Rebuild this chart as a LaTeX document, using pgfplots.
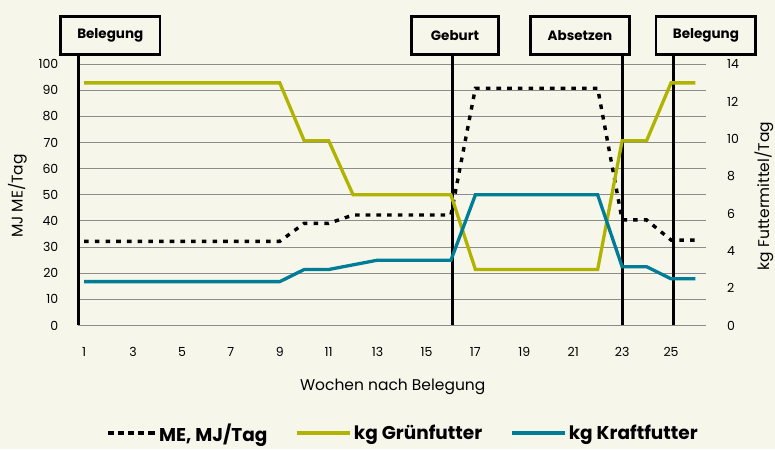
\documentclass[border=0pt]{standalone}
\usepackage{fontspec}
\setmainfont{Poppins}
\usepackage{pgfplots}
\usepackage{pgfplotstable}
\pgfplotsset{compat=1.18}
\definecolor{bg}{RGB}{246,246,235}
\definecolor{gruen}{RGB}{176,180,0}
\definecolor{kraft}{RGB}{0,125,150}
\definecolor{gridc}{RGB}{140,140,140}

\pgfplotstableread{
w me gr kr
1 32.2 13 2.35
2 32.2 13 2.35
3 32.2 13 2.35
4 32.2 13 2.35
5 32.2 13 2.35
6 32.2 13 2.35
7 32.2 13 2.35
8 32.2 13 2.35
9 32.2 13 2.35
10 39.1 9.9 3.0
11 39.1 9.9 3.0
12 42.3 7 3.25
13 42.3 7 3.5
14 42.3 7 3.5
15 42.3 7 3.5
16 42.3 7 3.5
17 90.8 3 7
18 90.8 3 7
19 90.8 3 7
20 90.8 3 7
21 90.8 3 7
22 90.8 3 7
23 40.4 9.9 3.15
24 40.4 9.9 3.15
25 32.7 13 2.5
26 32.7 13 2.5
}\datatab

\pgfplotsset{myax/.style={
  scale only axis, width=628pt, height=261.3pt,
  at={(78pt,123.5pt)}, anchor=south west,
  xmin=0.75, xmax=26.43,
  axis line style={draw=none}, major tick length=0pt, tick style={draw=none},
  clip=false,
  /pgf/number format/assume math mode=true,
  tick label style={font=\fontsize{12.5}{14}\selectfont, inner sep=0pt},
},
legline/.style={legend image code/.code={\draw[##1, line width=4.5pt] (0pt,0pt) -- (#1,0pt);}},
}

\begin{document}
\begin{tikzpicture}
\useasboundingbox (0,0) rectangle (775pt,449pt);
\fill[bg] (0,0) rectangle (775pt,449pt);

\begin{axis}[myax,
  ymin=0, ymax=100, ytick={0,10,...,100},
  ymajorgrids, grid style={gridc, line width=1pt},
  xtick={1,3,...,25},
  xticklabel style={anchor=north, yshift=-21.5pt},
  yticklabel style={anchor=east, xshift=-19.5pt},
]
\draw[black, line width=2.8pt] (axis cs:0.78,0) -- (axis cs:0.78,103.1);
\draw[black, line width=2.8pt] (axis cs:16.05,0) -- (axis cs:16.05,103.1);
\draw[black, line width=2.8pt] (axis cs:23.0,0) -- (axis cs:23.0,103.1);
\draw[black, line width=2.8pt] (axis cs:25.1,0) -- (axis cs:25.1,103.1);
\addplot[black, line width=3.4pt, dash pattern=on 4.6pt off 6.1pt] table[x=w, y=me] {\datatab};
\end{axis}

\begin{axis}[myax,
  ymin=0, ymax=14, ytick={0,2,...,14},
  xtick=\empty,
  yticklabel pos=right,
  yticklabel style={anchor=west, xshift=21pt},
  legend columns=3,
  legend cell align=left,
  legend style={at={(0.517,-0.412)}, anchor=center, draw=none, fill=none,
    font=\bfseries\fontsize{18.5}{21}\selectfont,
    /tikz/every even column/.append style={column sep=25pt}},
]
\addlegendimage{black, dash pattern=on 6.3pt off 3.8pt, legline=47pt}
\addlegendentry{ME, MJ/Tag}
\addplot[gruen, line width=3.3pt, legline=53pt] table[x=w, y=gr] {\datatab};
\addlegendentry{kg Grünfutter}
\addplot[kraft, line width=3.3pt, legline=53pt] table[x=w, y=kr] {\datatab};
\addlegendentry{kg Kraftfutter}
\end{axis}

\tikzset{lbox/.style={draw=black, line width=2.7pt, fill=bg, minimum height=38.4pt, inner sep=0pt,
  font=\bfseries\fontsize{13.5}{16}\selectfont}}
\node[lbox, minimum width=99.3pt] at (110.3pt,413.5pt) {Belegung};
\node[lbox, minimum width=87.4pt] at (455pt,413.5pt) {Geburt};
\node[lbox, minimum width=99.3pt] at (580pt,413.5pt) {Absetzen};
\node[lbox, minimum width=99.6pt] at (705.9pt,413.5pt) {Belegung};

\node[rotate=90, font=\fontsize{15.5}{18}\selectfont] at (17.5pt,253pt) {MJ ME/Tag};
\node[rotate=90, font=\fontsize{15.5}{18}\selectfont] at (764pt,253pt) {kg Futtermittel/Tag};
\node[font=\fontsize{15.5}{18}\selectfont] at (392.7pt,62.3pt) {Wochen nach Belegung};
\end{tikzpicture}
\end{document}
